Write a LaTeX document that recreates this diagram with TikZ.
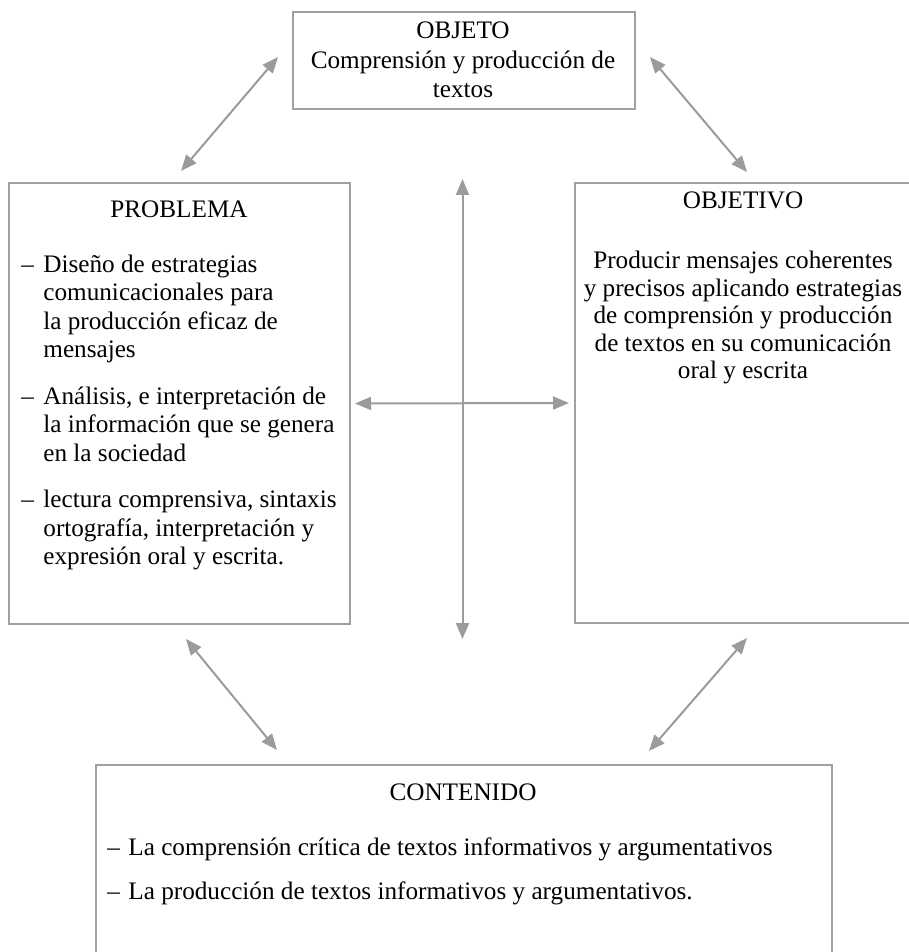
\documentclass[tikz,border=0pt]{standalone}
\usepackage{fontspec}
\setmainfont{Liberation Serif}
\usetikzlibrary{arrows.meta,calc}
\definecolor{framegray}{RGB}{160,160,160}
\definecolor{arrowgray}{RGB}{155,155,155}

\begin{document}
\begin{tikzpicture}[x=0.5pt,y=-0.5pt,
    box/.style={draw=framegray,line width=1pt,rectangle,inner sep=0pt,anchor=north west},
    txt/.style={inner sep=0pt,anchor=base,font=\fontsize{12.6pt}{14.25pt}\selectfont},
    link/.style={draw=arrowgray,line width=1pt,{Triangle[length=8pt,width=6.5pt]}-{Triangle[length=8pt,width=6.5pt]}}]
  \useasboundingbox (0,0) rectangle (909,952);

  % frames
  \node[box,minimum width=171pt,minimum height=48.5pt] (objeto) at (292,11) {};
  \node[box,minimum width=170.5pt,minimum height=220.5pt] (problema) at (8,182) {};
  \node[box,minimum width=169pt,minimum height=220pt] (objetivo) at (574,182) {};
  \node[box,minimum width=368pt,minimum height=100pt] (contenido) at (95,764) {};

  % texts
  \node[txt,font=\fontsize{12.6pt}{14.75pt}\selectfont] (objetoTxt) at (463,39)
    {\begin{tabular}[t]{@{}c@{}}OBJETO\\ Comprensión y producción de\\ textos\end{tabular}};

  \node[txt] (problemaTit) at (179,218) {PROBLEMA};
  \node[txt,anchor=base west] (problemaTxt) at (21,272)
    {\begin{tabular}[t]{@{}p{11pt}@{}l@{}}
     – & Diseño de estrategias\\
       & comunicacionales para\\
       & la producción eficaz de\\
       & mensajes\\[9pt]
     – & Análisis, e interpretación de\\
       & la información que se genera\\
       & en la sociedad\\[9pt]
     – & lectura comprensiva, sintaxis\\
       & ortografía, interpretación y\\
       & expresión oral y escrita.
     \end{tabular}};

  \node[txt] (objetivoTit) at (743,209) {OBJETIVO};
  \node[txt,font=\fontsize{12.6pt}{13.75pt}\selectfont] (objetivoTxt) at (743,269)
    {\begin{tabular}[t]{@{}c@{}}
     Producir mensajes coherentes\\
     y precisos aplicando estrategias\\
     de comprensión y producción\\
     de textos en su comunicación\\
     oral y escrita
     \end{tabular}};

  \node[txt] (contenidoTit) at (463,800) {CONTENIDO};
  \node[txt,anchor=base west] (contenidoTxt) at (107,855)
    {\begin{tabular}[t]{@{}p{10.5pt}@{}l@{}}
     – & La comprensión crítica de textos informativos y argumentativos\\[7.75pt]
     – & La producción de textos informativos y argumentativos.
     \end{tabular}};

  % double arrows
  \draw[link] ($(problema.north)+(1.5,-11)$) -- ($(objeto.west)+(-14,-3.5)$);
  \draw[link] ($(objeto.east)+(14,-3.5)$) -- ($(objetivo.north)+(3,-10)$);
  \draw[link] ($(problema.north east)!.5!(objetivo.north west)+(0,-3)$) --
              ($(problema.south east)!.5!(objetivo.south west)+(0,14.5)$);
  \draw[link,shorten <=2pt,shorten >=2.5pt] (problema.east) -- (objetivo.west);
  \draw[link] ($(problema.south)+(6.5,14)$) -- ($(contenido.north west)+(182,-14)$);
  \draw[link] ($(objetivo.south)+(3,14)$) -- ($(contenido.north east)+(-184,-13)$);
\end{tikzpicture}
\end{document}
